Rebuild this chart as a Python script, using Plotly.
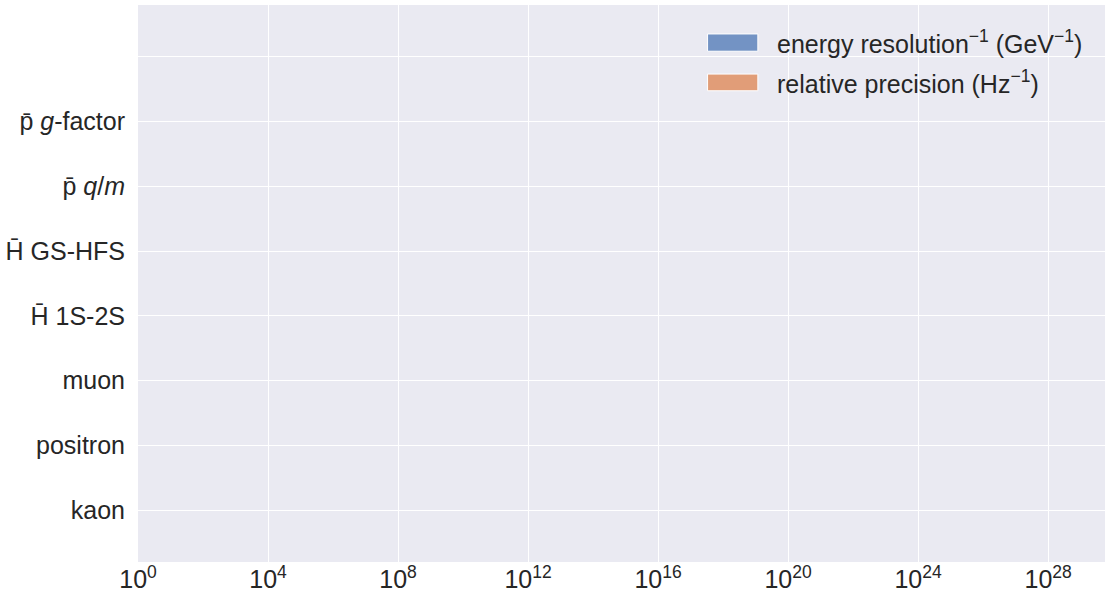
import plotly.graph_objects as go

# Measurements compared on a log scale; values not available are left empty
categories = ["kaon", "positron", "muon", "H\u0304 1S-2S", "H\u0304 GS-HFS",
              "p\u0304 <i>q</i>/<i>m</i>", "p\u0304 <i>g</i>-factor", ""]
energy_resolution_inv = [None, None, None, None, None, None, None, None]
relative_precision_inv = [None, None, None, None, None, None, None, None]
series_names = ["energy resolution<sup>\u22121</sup> (GeV<sup>\u22121</sup>)",
                "relative precision (Hz<sup>\u22121</sup>)"]
series_colors = ["#7393C4", "#E19D78"]
x_tick_exponents = [0, 4, 8, 12, 16, 20, 24, 28]

positions = list(range(len(categories)))

fig = go.Figure()
for name, vals, color, offset in [
    (series_names[0], energy_resolution_inv, series_colors[0], -0.2),
    (series_names[1], relative_precision_inv, series_colors[1], 0.2),
]:
    fig.add_trace(go.Bar(
        y=[p + offset for p in positions], x=vals, orientation="h",
        name=name, marker_color=color, width=0.4, showlegend=False,
    ))

# Legend drawn as wide patches with labels
legend_y = [(0.948, 0.917, 0.934), (0.876, 0.846, 0.862)]
for (y0, y1, yc), name, color in zip(legend_y, series_names, series_colors):
    fig.add_shape(type="rect", xref="paper", yref="paper",
                  x0=0.589, x1=0.641, y0=y1, y1=y0,
                  fillcolor=color, line=dict(color="white", width=1), layer="above")
    fig.add_annotation(xref="paper", yref="paper", x=0.659, y=yc,
                       text=name, showarrow=False, xanchor="left", yanchor="middle",
                       font=dict(family="Liberation Sans, Arial, sans-serif",
                                 size=25, color="#262626"))

font_family = "Liberation Sans, Arial, sans-serif"
fig.update_layout(
    width=1108, height=601,
    margin=dict(l=138, r=3, t=5, b=39, autoexpand=False),
    paper_bgcolor="white", plot_bgcolor="#EAEAF2",
    font=dict(family=font_family, size=24, color="#262626"),
    showlegend=False,
    xaxis=dict(
        type="log", range=[0, 29.75], automargin=False,
        tickvals=[10.0 ** e for e in x_tick_exponents],
        ticktext=[f"10<sup>{e}</sup>" for e in x_tick_exponents],
        showgrid=True, gridcolor="white", gridwidth=1.2,
        zeroline=False, showline=False,
        ticks="", ticklen=0,
        tickfont=dict(size=25, color="#262626"),
    ),
    yaxis=dict(
        range=[-0.8, 7.8], automargin=False,
        tickvals=positions, ticktext=categories,
        showgrid=True, gridcolor="white", gridwidth=1.2,
        zeroline=False, showline=False,
        ticks="outside", ticklen=7, tickcolor="rgba(0,0,0,0)",
        tickfont=dict(size=25, color="#262626"),
    ),
)

fig.write_html("out.html")
